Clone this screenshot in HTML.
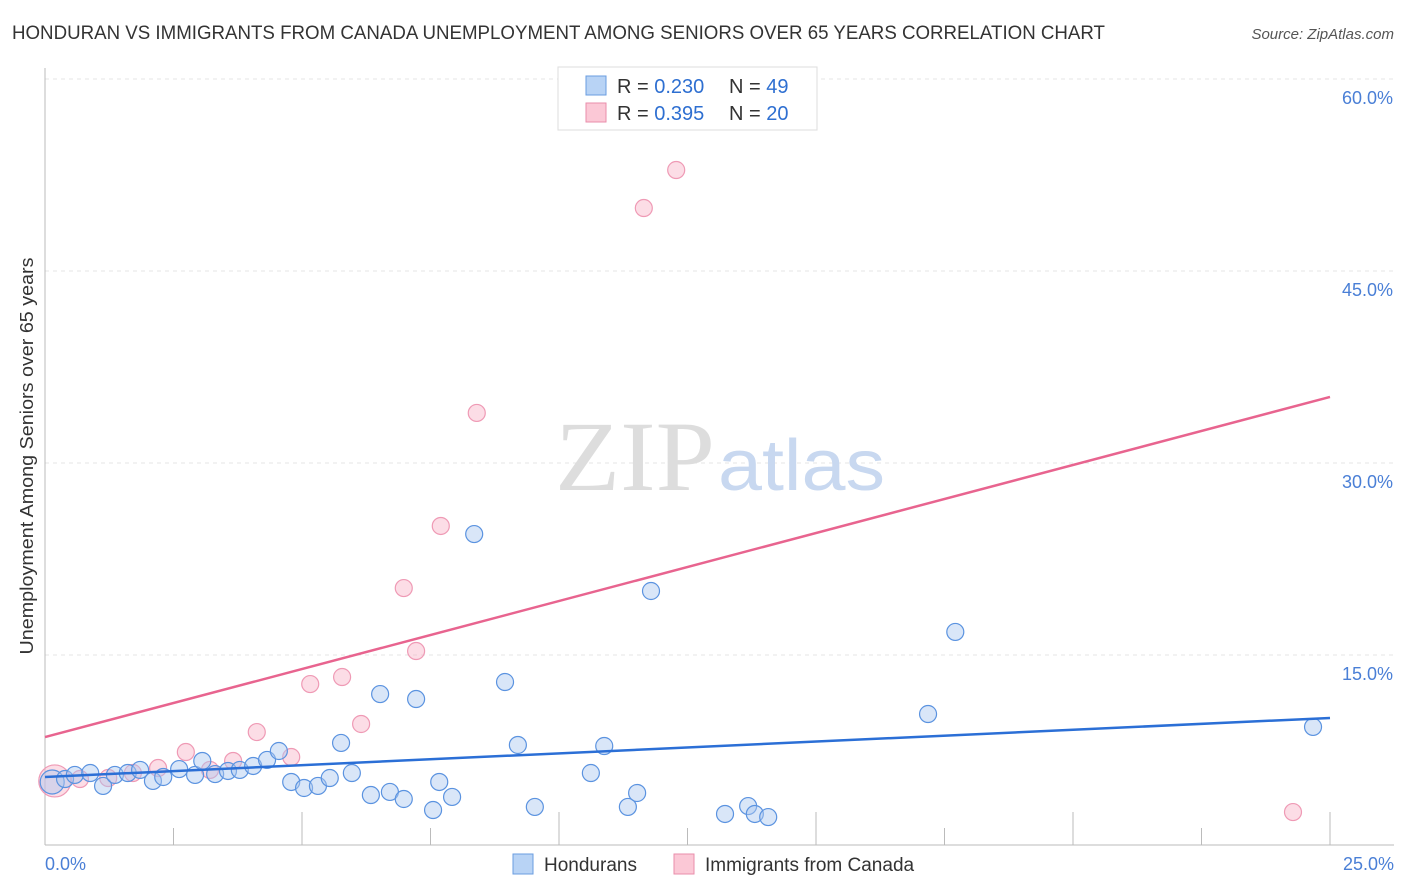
<!DOCTYPE html>
<html><head><meta charset="utf-8"><style>
body{margin:0;background:#fff;font-family:"Liberation Sans",sans-serif;}
svg{display:block}
</style></head><body>
<svg id="chart" width="1406" height="892">
<text x="12" y="39" font-size="19" fill="#333" textLength="1093" lengthAdjust="spacingAndGlyphs">HONDURAN VS IMMIGRANTS FROM CANADA UNEMPLOYMENT AMONG SENIORS OVER 65 YEARS CORRELATION CHART</text>
<text x="1394" y="39" font-size="15" fill="#555" font-style="italic" text-anchor="end">Source: ZipAtlas.com</text>
<g id="grid"></g>
<text x="555" y="490" font-size="100" fill="#ddd" font-family="Liberation Serif,serif" textLength="160" lengthAdjust="spacingAndGlyphs">ZIP</text>
<text x="718" y="490" font-size="72" fill="#c8d8f0" textLength="167" lengthAdjust="spacingAndGlyphs">atlas</text>
<line x1="45" y1="68" x2="45" y2="845" stroke="#bbb"/>
<line x1="45" y1="845" x2="1394" y2="845" stroke="#bbb"/>
<g id="xticks"></g>
<g id="yticks"></g>
<text x="45" y="870" font-size="18" fill="#4a7fd6">0.0%</text>
<text x="1394" y="870" font-size="18" fill="#4a7fd6" text-anchor="end">25.0%</text>
<text transform="translate(33,456) rotate(-90)" font-size="18" fill="#333" text-anchor="middle" textLength="397" lengthAdjust="spacingAndGlyphs">Unemployment Among Seniors over 65 years</text>
<g id="pts"></g>
<g id="lines"></g>
<g>
<rect x="558" y="67" width="259" height="63" fill="#fff" stroke="#ddd"/>
<rect x="586" y="76" width="20" height="19" fill="#b8d3f5" stroke="#6a9de0"/>
<rect x="586" y="103" width="20" height="19" fill="#fbc8d6" stroke="#ea8eab"/>
<text x="617" y="93" font-size="20" fill="#333">R = <tspan fill="#2e6fd1">0.230</tspan></text>
<text x="729" y="93" font-size="20" fill="#333">N = <tspan fill="#2e6fd1">49</tspan></text>
<text x="617" y="120" font-size="20" fill="#333">R = <tspan fill="#2e6fd1">0.395</tspan></text>
<text x="729" y="120" font-size="20" fill="#333">N = <tspan fill="#2e6fd1">20</tspan></text>
</g>
<g>
<rect x="513" y="854" width="20" height="20" fill="#b8d3f5" stroke="#6a9de0"/>
<text x="544" y="871" font-size="19" fill="#333">Hondurans</text>
<rect x="674" y="854" width="20" height="20" fill="#fbc8d6" stroke="#ea8eab"/>
<text x="705" y="871" font-size="19" fill="#333">Immigrants from Canada</text>
</g>
</svg>
<script>
const yTicks=[15,30,45,60];
const blueX=[0.14,0.39,0.58,0.88,1.13,1.36,1.61,1.85,2.10,2.30,2.61,2.92,3.06,3.31,3.56,3.79,4.05,4.32,4.55,4.79,5.04,5.31,5.54,5.76,5.97,6.34,6.52,6.71,6.98,7.22,7.55,7.67,7.92,8.35,8.95,9.20,9.53,10.62,10.88,11.34,11.52,11.79,13.23,13.68,13.81,14.07,17.18,17.71,24.67];
const blueY=[5.08,5.31,5.63,5.78,4.77,5.63,5.78,6.02,5.16,5.47,6.09,5.63,6.72,5.70,5.94,6.02,6.33,6.80,7.50,5.08,4.61,4.77,5.39,8.13,5.78,4.06,11.95,4.30,3.75,11.56,2.89,5.08,3.91,24.45,12.89,7.97,3.13,5.78,7.89,3.13,4.22,20.0,2.58,3.20,2.58,2.34,10.39,16.80,9.38];
const pinkX=[0.19,0.68,1.23,1.71,2.20,2.74,3.21,3.66,4.12,4.79,5.16,5.78,6.15,6.98,7.22,7.70,8.40,11.65,12.28,24.28];
const pinkY=[5.16,5.31,5.39,5.78,6.17,7.42,6.02,6.72,8.98,7.03,12.73,13.28,9.61,20.23,15.31,25.08,33.91,49.92,52.89,2.73];
const blueTrend=[5.47,10.08];
const pinkTrend=[8.59,35.16];
const NS="http://www.w3.org/2000/svg";
const sx=v=>45+v/25*1285, sy=v=>847-v/15*192;
function mk(t,a,p){const e=document.createElementNS(NS,t);for(const k in a)e.setAttribute(k,a[k]);p.appendChild(e);return e;}
const grid=document.getElementById('grid'),yt=document.getElementById('yticks'),xt=document.getElementById('xticks');
yTicks.forEach(v=>{
 const l=mk('line',{x1:45,x2:1394,y1:sy(v),y2:sy(v),stroke:'#e4e4e4','stroke-dasharray':'4,4'},grid);
 
 
 const t=mk('text',{x:1393,y:sy(v)+25,'font-size':18,fill:'#4a7fd6','text-anchor':'end'},yt);
 t.textContent=v.toFixed(1)+'%';
 
 
});
for(let i=1;i<=10;i++){const v=i*2.5;
 const l=mk('line',{x1:sx(v),x2:sx(v),y1:(i%2?828:812),y2:845,stroke:'#bbb'},xt);
 
 
}
const pts=document.getElementById('pts');
pinkX.forEach((x,i)=>{const c=mk('circle',{cx:sx(x),cy:sy(pinkY[i]),r:i==0?16:8.5,fill:'rgba(248,180,200,0.45)',stroke:'#ef9ab5','stroke-width':1.2},pts);
 
 });
blueX.forEach((x,i)=>{const c=mk('circle',{cx:sx(x),cy:sy(blueY[i]),r:i==0?12:8.5,fill:'rgba(170,200,240,0.45)',stroke:'#5b93e0','stroke-width':1.2},pts);
 
 });
const lines=document.getElementById('lines');
const bl=mk('line',{x1:sx(0),y1:sy(blueTrend[0]),x2:sx(25),y2:sy(blueTrend[1]),stroke:'#2b6fd6','stroke-width':2.5},lines);


const pl=mk('line',{x1:sx(0),y1:sy(pinkTrend[0]),x2:sx(25),y2:sy(pinkTrend[1]),stroke:'#e8648f','stroke-width':2.5},lines);


</script>
</body></html>
